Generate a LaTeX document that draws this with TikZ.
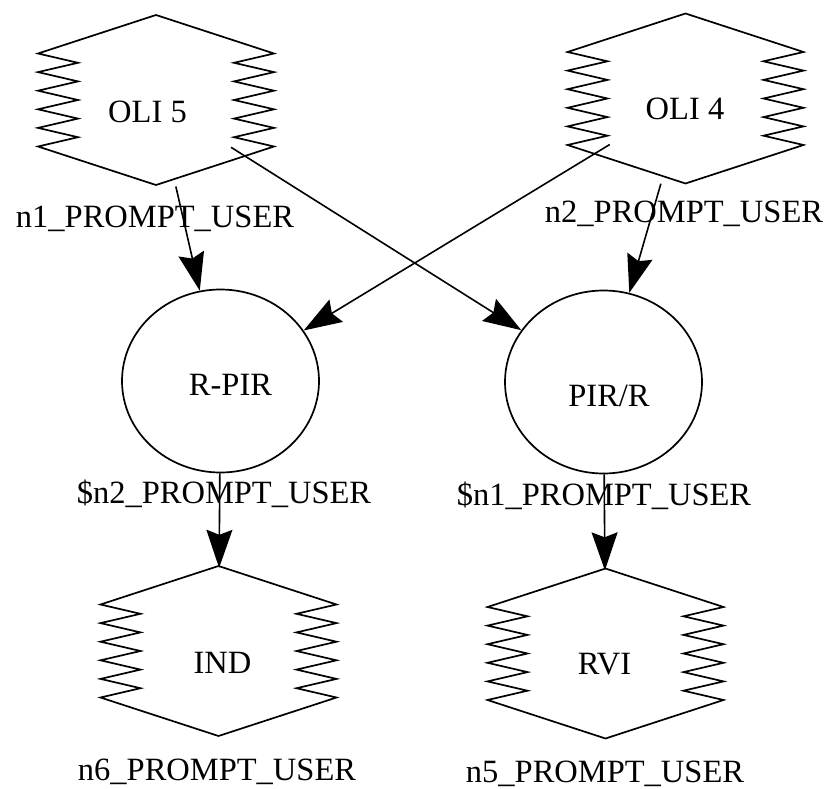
\documentclass[tikz,border=0pt]{standalone}
\usepackage{fontspec}
\setmainfont{Liberation Serif}
\usetikzlibrary{arrows.meta,shapes.geometric}
\newcommand\zigoutline{%
  \draw[outline] (0,-85) -- (118,-46.5)
    \foreach \i in {0,...,4} { -- (78,{-46.5+18.6*\i+9.3}) -- (118,{-46.5+18.6*(\i+1)}) }
    -- (0,85) -- (-118,46.5)
    \foreach \i in {0,...,4} { -- (-78,{46.5-18.6*\i-9.3}) -- (-118,{46.5-18.6*(\i+1)}) }
    -- cycle;}
\begin{document}
\begin{tikzpicture}[x=1pt,y=-1pt,
  outline/.style={line width=1.7pt,line join=miter},
  zzanchor/.style={circle,draw=none,inner sep=0pt,minimum size=#1},
  roundnode/.style={ellipse,draw,line width=1.7pt,inner sep=0pt,minimum width=197pt,minimum height=183pt},
  edgeline/.style={line width=1.6pt,-{Stealth[length=38pt,width=26pt,inset=5pt]}},
  txt/.style={anchor=base,inner sep=0pt,font=\fontsize{32.5}{39}\selectfont}]
\useasboundingbox (0,0) rectangle (830,789);
\fill[white] (0,0) rectangle (830,789);
% anchor nodes for the zig-zag shapes
\node[zzanchor=177pt] (oli5) at (156,100) {};
\node[zzanchor=177pt] (oli4) at (685.5,98.5) {};
\node[zzanchor=166pt] (ind) at (218.5,651) {};
\node[zzanchor=166pt] (rvi) at (605.5,653.5) {};
\begin{scope}[shift={(oli5.center)}]\zigoutline\end{scope}
\begin{scope}[shift={(oli4.center)}]\zigoutline\end{scope}
\begin{scope}[shift={(ind.center)}]\zigoutline\end{scope}
\begin{scope}[shift={(rvi.center)}]\zigoutline\end{scope}
% circles
\node[roundnode] (rpir) at (220.5,381) {};
\node[roundnode] (pirr) at (603.5,382) {};
% node texts
\node[txt] (toli5) at (147.5,123) {OLI 5};
\node[txt] (toli4) at (685,120) {OLI 4};
\node[txt] (trpir) at (230.5,395) {R-PIR};
\node[txt] (tpirr) at (609,406) {PIR/R};
\node[txt] (tind) at (222.5,673) {IND};
\node[txt] (trvi) at (604.5,674) {RVI};
% external labels
\node[txt] (l1) at (155,227) {n1\_PROMPT\_USER};
\node[txt] (l2) at (684,222) {n2\_PROMPT\_USER};
\node[txt] (l3) at (224,503) {\$n2\_PROMPT\_USER};
\node[txt] (l4) at (604,505) {\$n1\_PROMPT\_USER};
\node[txt] (l6) at (217,780) {n6\_PROMPT\_USER};
\node[txt] (l5) at (605,782) {n5\_PROMPT\_USER};
% edges
\draw[edgeline] (oli5) -- (rpir);
\draw[edgeline] (oli5) -- (pirr);
\draw[edgeline] (oli4) -- (rpir);
\draw[edgeline] (oli4) -- (pirr);
\draw[edgeline] (rpir) -- (ind);
\draw[edgeline] (pirr) -- (rvi);
\end{tikzpicture}
\end{document}
